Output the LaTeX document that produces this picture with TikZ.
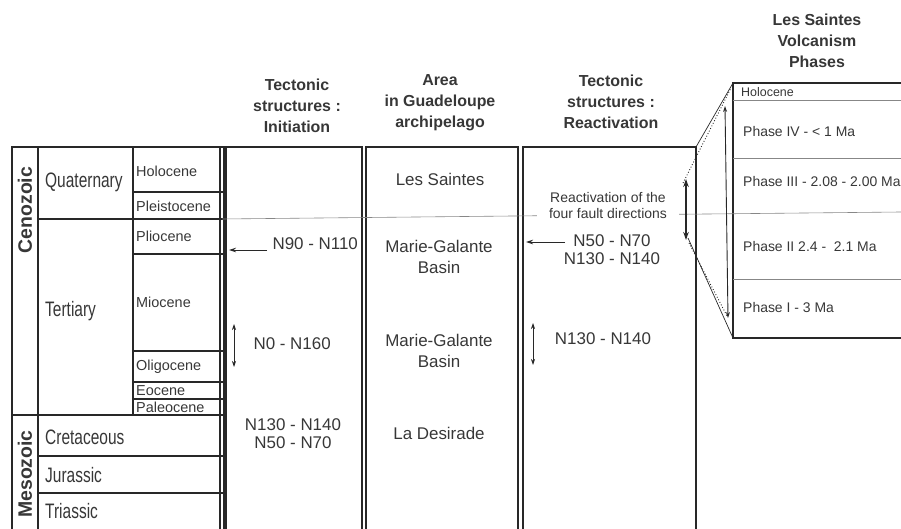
\documentclass[tikz,border=0pt]{standalone}
\usepackage{fontspec}
\setmainfont{Liberation Sans}
\newfontfamily\narrowfont[FakeStretch=0.74]{Liberation Sans}
\usetikzlibrary{calc,arrows.meta,positioning}
\definecolor{strokeDark}{RGB}{40,40,40}
\definecolor{strokeGray}{RGB}{135,135,135}
\definecolor{txtDark}{RGB}{55,55,55}

\begin{document}
\begin{tikzpicture}[x=1bp,y=-1bp,
    tbl/.style={draw=strokeDark, line width=1.2pt},
    colbox/.style={draw=strokeDark, line width=1.1pt, anchor=north west, minimum height=400bp, inner sep=0pt, outer sep=0pt},
    hdr/.style={align=center, text=txtDark, font=\bfseries\fontsize{16}{21}\selectfont},
    lbl/.style={align=center, text=txtDark, font=\fontsize{17}{21}\selectfont},
    era/.style={rotate=90, text=txtDark, font=\bfseries\fontsize{19.5}{20}\selectfont},
    period/.style={anchor=base west, inner sep=0pt, text=txtDark, font=\narrowfont\fontsize{21}{22}\selectfont},
    epoch/.style={anchor=base west, inner sep=0pt, text=txtDark, font=\fontsize{14.5}{16}\selectfont},
    phase/.style={anchor=base west, inner sep=0pt, text=txtDark, font=\fontsize{14}{16}\selectfont},
    tip/.style={-{Stealth[length=7bp,width=4.5bp]}, draw=strokeDark, line width=0.9pt},
    dtip/.style={{Stealth[length=6bp,width=4bp]}-{Stealth[length=6bp,width=4bp]}, draw=strokeDark, line width=0.7pt},
    bigtip/.style={{Stealth[length=8bp,width=5.5bp]}-{Stealth[length=8bp,width=5.5bp]}, draw=strokeDark, line width=1.5pt},
    thinline/.style={draw=strokeGray, line width=0.6pt},
    dotln/.style={draw=strokeDark, dotted, line width=0.9pt},
    connln/.style={draw=strokeDark, line width=0.7pt}]
    \useasboundingbox (0,0) rectangle (901,529);
    \clip (0,0) rectangle (901,529);

    % geological time scale
    \draw[tbl] (12,147) rectangle (224,560);
    \draw[tbl] (38,147) -- (38,560) (133,147) -- (133,415) (220,147) -- (220,560);
    \draw[tbl] (12,415) -- (224,415);
    \foreach \yy in {219,456,493} \draw[tbl] (38,\yy) -- (224,\yy);
    \foreach \yy in {192,254,351,382,399} \draw[tbl] (133,\yy) -- (224,\yy);

    \node[era] (ceno) at (25,210) {Cenozoic};
    \node[era] (meso) at (25,474) {Mesozoic};
    \node[period] (quat) at (45,188) {Quaternary};
    \node[period] (tert) at (45,317) {Tertiary};
    \node[period] (cret) at (45,444) {Cretaceous};
    \node[period] (jura) at (45,482) {Jurassic};
    \node[period] (tria) at (45,518) {Triassic};
    \node[epoch] (holo) at (136,177) {Holocene};
    \node[epoch] (plei) at (136,212) {Pleistocene};
    \node[epoch] (plio) at (136,242) {Pliocene};
    \node[epoch] (mioc) at (136,308) {Miocene};
    \node[epoch] (olig) at (136,370) {Oligocene};
    \node[epoch] (eoce) at (136,395) {Eocene};
    \node[epoch] (pale) at (136,412) {Paleocene};

    % columns
    \node[colbox, minimum width=136bp] (ini) at (226,147) {};
    \node[colbox, minimum width=152bp] (area) at (366,147) {};
    \node[colbox, minimum width=173bp] (reac) at (523,147) {};
    \node[colbox, minimum width=200bp, minimum height=255bp] (phs) at (733,83) {};

    \node[hdr] (hIni) at (297,106) {Tectonic\\structures :\\Initiation};
    \node[hdr] (hArea) at (440,102.5) {Area\\in Guadeloupe\\archipelago};
    \node[hdr] (hReac) at (611,102) {Tectonic\\structures :\\Reactivation};
    \node[hdr] (hPhs) at (817,41) {Les Saintes\\Volcanism\\Phases};

    % Quaternary / Tertiary limit
    \draw[thinline] (222,219) -- (901,212);
    \foreach \yy in {100,158,279} \draw[thinline] (733,\yy) -- (901,\yy);

    % initiation
    \node[lbl, anchor=base west] (n90) at (269,250) {N90 - N110};
    \coordinate (i90) at (267,250);
    \draw[tip] (i90) -- ([xshift=3bp]i90 -| ini.west);
    \node[lbl, anchor=base west] (n0) at (250,350) {N0 - N160};
    \coordinate (n0up) at (234,324);
    \coordinate (n0dn) at (234,367);
    \draw[dtip] (n0up) -- (n0dn);
    \node[lbl, font=\fontsize{17}{18}\selectfont] (n130) at (293,434) {N130 - N140\\N50 - N70};

    % area
    \node[lbl, anchor=base] (lsai) at (440,186) {Les Saintes};
    \node[lbl] (mgb1) at (439,257) {Marie-Galante\\Basin};
    \node[lbl] (mgb2) at (439,351) {Marie-Galante\\Basin};
    \node[lbl, anchor=base] (ldes) at (439,439) {La Desirade};

    % reactivation
    \node[lbl, fill=white, inner xsep=12bp, font=\fontsize{14}{17}\selectfont] (four) at (608,205.5) {Reactivation of the\\four fault directions};
    \node[lbl, font=\fontsize{17}{18}\selectfont] (n50) at (612,250) {N50 - N70\\N130 - N140};
    \coordinate (r50) at (565,242);
    \draw[tip] (r50) -- ([xshift=3bp]r50 -| reac.west);
    \node[lbl, anchor=base] (r130) at (603,345) {N130 - N140};
    \coordinate (r130up) at (533,323);
    \coordinate (r130dn) at (533,365);
    \draw[dtip] (r130up) -- (r130dn);
    \coordinate (rtop) at (686,179);
    \coordinate (rbot) at (686,240);
    \draw[bigtip] (rtop) -- (rbot);

    % volcanism phases
    \node[phase, font=\fontsize{12.5}{14}\selectfont] (ph0) at (741,97) {Holocene};
    \node[phase] (ph4) at (743,137) {Phase IV - < 1 Ma};
    \node[phase] (ph3) at (743,187) {Phase III - 2.08 - 2.00 Ma};
    \node[phase] (ph2) at (743,252) {Phase II 2.4 -\ \ 2.1 Ma};
    \node[phase] (ph1) at (743,313) {Phase I - 3 Ma};
    \coordinate (ptop) at (725,106);
    \coordinate (pbot) at (728,318);
    \draw[dtip, line width=0.9pt] (ptop) -- (pbot);

    % zoom lines
    \draw[connln] (reac.north east) -- (phs.north west);
    \draw[connln] (688,238) -- (phs.south west);
    \draw[dotln] ([shift={(-3bp,-4bp)}]rtop) -- (731,88);
    \draw[dotln] ([shift={(3bp,-3bp)}]rbot) -- (727,316);
\end{tikzpicture}
\end{document}
